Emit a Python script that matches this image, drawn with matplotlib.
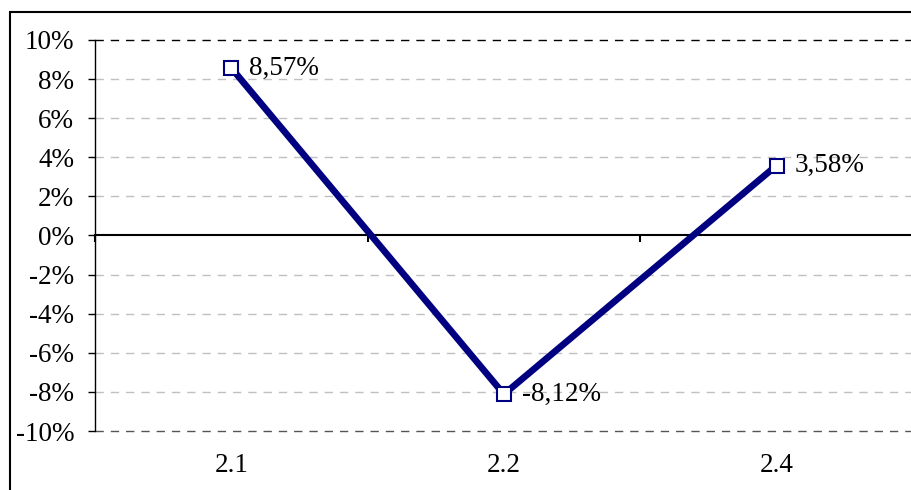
import matplotlib
matplotlib.use("Agg")
import matplotlib.pyplot as plt
import matplotlib.transforms as mtransforms
from matplotlib.patches import Rectangle

categories = ["2.1", "2.2", "2.4"]
values = [8.57, -8.12, 3.58]
value_labels = ["8,57%", "-8,12%", "3,58%"]
y_ticks = [-10, -8, -6, -4, -2, 0, 2, 4, 6, 8, 10]

plt.rcParams['font.family'] = ['Liberation Serif', 'DejaVu Serif']
plt.rcParams['lines.scale_dashes'] = False

navy = '#000080'
fs = 19.5

fig = plt.figure(figsize=(9.11, 4.90), dpi=100)
ax = fig.add_axes([95 / 911, 59 / 490, 1 - 95 / 911 + 0.002, 391 / 490])

x = list(range(len(categories)))

# gridlines
for t in y_ticks:
    if t == 0:
        continue
    if t == 10:
        col = '#000000'
    elif t == -10:
        col = '#555555'
    else:
        col = '#c0c0c0'
    ax.axhline(t, color=col, lw=1.0, dashes=(6, 5), zorder=1, clip_on=False)

ax.plot(x, values, color=navy, lw=4.8, marker='s', markersize=9.5,
        markerfacecolor='white', markeredgecolor=navy, markeredgewidth=1.5,
        zorder=3, solid_joinstyle='miter')

for xi, v, lab in zip(x, values, value_labels):
    ax.annotate(lab, (xi, v), xytext=(13, 0), textcoords='offset points',
                ha='left', va='center', fontsize=fs)

ax.set_xlim(-0.5, 2.5)
ax.set_ylim(-10, 10)
ax.set_yticks(y_ticks)
ax.set_yticklabels([f"{t}%" for t in y_ticks])

ax.spines['top'].set_visible(False)
ax.spines['right'].set_visible(False)
ax.spines['left'].set_linewidth(1.0)
ax.spines['bottom'].set_position(('data', 0))
ax.spines['bottom'].set_linewidth(1.5)
ax.spines['bottom'].set_zorder(2)

ax.set_xticks([-0.5, 0.5, 1.5, 2.5])
ax.set_xticklabels([])
ax.tick_params(axis='x', direction='out', length=5, width=1.5)
ax.tick_params(axis='y', direction='out', length=5, width=1.0,
               labelsize=fs, pad=10)

trans = mtransforms.blended_transform_factory(ax.transData, ax.transAxes)
for xi, c in zip(x, categories):
    ax.text(xi, -0.087, c, transform=trans, ha='center', va='center',
            fontsize=fs)

# outer chart frame
fig.patches.append(Rectangle((10 / 911, -0.05), 1.0, (478 / 490) + 0.05,
                             transform=fig.transFigure, fill=False,
                             edgecolor='black', lw=1.5))

fig.savefig("out.png", dpi=100)
